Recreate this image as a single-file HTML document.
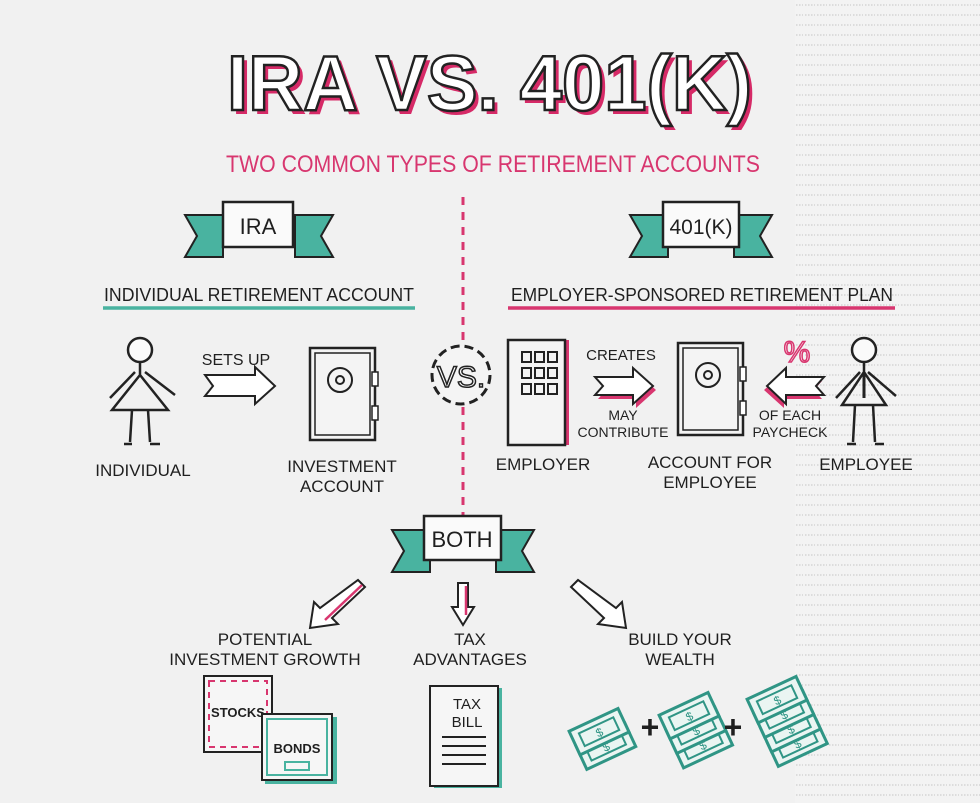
<!DOCTYPE html>
<html><head><meta charset="utf-8"><style>
html,body{margin:0;padding:0;background:#f2f2f2}
svg{display:block}
text{font-family:"Liberation Sans",sans-serif;fill:#1f1f1f}
</style></head><body>
<svg width="980" height="803" viewBox="0 0 980 803" xmlns="http://www.w3.org/2000/svg">
<defs>
<pattern id="tex" width="12" height="10" patternUnits="userSpaceOnUse">
<rect width="12" height="10" fill="#f3f3f3"/>
<line x1="1" y1="5" x2="11" y2="5" stroke="#d4d4d4" stroke-width="1.5" stroke-dasharray="1.5 1.5"/>
</pattern>
<g id="banL"><polygon points="0,10 38,10 38,52 0,52 12,31" fill="#49b3a0" stroke="#222" stroke-width="2"/></g>
<g id="bill"><rect x="-27" y="-13" width="54" height="26" fill="#eaf5f2" stroke="#2f9585" stroke-width="3"/><rect x="-19" y="-7" width="38" height="14" fill="none" stroke="#2f9585" stroke-width="2"/><text x="0" y="5" font-size="12" text-anchor="middle" style="fill:#2f9585">$</text></g>
<g id="safe"><rect x="0" y="0" width="65" height="92" fill="#f4f4f4" stroke="#222" stroke-width="2.5"/><rect x="5" y="5" width="55" height="82" fill="none" stroke="#222" stroke-width="1.5"/><circle cx="30" cy="32" r="12" fill="none" stroke="#222" stroke-width="2"/><circle cx="30" cy="32" r="4" fill="none" stroke="#222" stroke-width="2"/><rect x="62" y="24" width="6" height="14" fill="#fff" stroke="#222" stroke-width="1.5"/><rect x="62" y="58" width="6" height="14" fill="#fff" stroke="#222" stroke-width="1.5"/></g>
</defs>
<rect width="980" height="803" fill="#f1f1f1"/>
<rect x="795" y="0" width="185" height="803" fill="url(#tex)"/>

<!-- title -->
<text x="231" y="114" font-size="78" font-weight="bold" textLength="525" lengthAdjust="spacingAndGlyphs" style="fill:#d62a67">IRA VS. 401(K)</text>
<text x="227" y="110" font-size="78" font-weight="bold" textLength="525" lengthAdjust="spacingAndGlyphs" style="fill:#fff;stroke:#222;stroke-width:2.5">IRA VS. 401(K)</text>
<text x="226" y="172" font-size="24" textLength="534" lengthAdjust="spacingAndGlyphs" style="fill:#d8366f">TWO COMMON TYPES OF RETIREMENT ACCOUNTS</text>

<line x1="463" y1="197" x2="463" y2="515" stroke="#d8366f" stroke-width="3" stroke-dasharray="8 7"/>

<!-- IRA banner -->
<use href="#banL" x="185" y="205"/>
<g transform="translate(333,0) scale(-1,1)"><use href="#banL" x="0" y="205"/></g>
<rect x="223" y="202" width="70" height="45" fill="#fafafa" stroke="#222" stroke-width="2.5"/>
<text x="258" y="234" font-size="22" text-anchor="middle">IRA</text>
<!-- 401k banner -->
<use href="#banL" x="630" y="205"/>
<g transform="translate(772,0) scale(-1,1)"><use href="#banL" x="0" y="205"/></g>
<rect x="663" y="202" width="76" height="45" fill="#fafafa" stroke="#222" stroke-width="2.5"/>
<text x="701" y="234" font-size="21" text-anchor="middle">401(K)</text>

<text x="104" y="301" font-size="18" textLength="310" lengthAdjust="spacingAndGlyphs">INDIVIDUAL RETIREMENT ACCOUNT</text>
<line x1="103" y1="308" x2="415" y2="308" stroke="#49b3a0" stroke-width="3.5"/>
<text x="511" y="301" font-size="18" textLength="382" lengthAdjust="spacingAndGlyphs">EMPLOYER-SPONSORED RETIREMENT PLAN</text>
<line x1="508" y1="308" x2="895" y2="308" stroke="#d8366f" stroke-width="3.5"/>

<!-- individual -->
<g stroke="#222" stroke-width="2.5" fill="none">
<circle cx="140" cy="350" r="12" fill="#fafafa"/>
<path d="M140 362 L140 375 M140 375 L112 410 L168 410 Z M135 372 L110 398 M145 372 L175 395 M132 410 L130 442 M148 410 L150 442 M124 444 L132 444 M150 444 L160 444"/>
</g>
<text x="143" y="476" font-size="17" text-anchor="middle">INDIVIDUAL</text>
<text x="236" y="365" font-size="16" text-anchor="middle">SETS UP</text>
<polygon points="205,375 255,375 255,367 275,386 255,404 255,396 205,396 213,386" fill="#fff" stroke="#222" stroke-width="2"/>
<use href="#safe" x="310" y="348"/>
<text x="342" y="472" font-size="17" text-anchor="middle">INVESTMENT</text>
<text x="342" y="492" font-size="17" text-anchor="middle">ACCOUNT</text>

<!-- VS -->
<circle cx="461" cy="375" r="29" fill="#f4f4f4" stroke="#222" stroke-width="3" stroke-dasharray="9 5"/>
<text x="461" y="387" font-size="30" text-anchor="middle" style="fill:#fff;stroke:#222;stroke-width:1.5">VS.</text>

<!-- employer building -->
<rect x="511" y="340" width="58" height="105" fill="#d8366f"/>
<rect x="508" y="340" width="57" height="105" fill="#f4f4f4" stroke="#222" stroke-width="2.5"/>
<g fill="none" stroke="#222" stroke-width="2">
<rect x="522" y="352" width="9" height="10"/><rect x="535" y="352" width="9" height="10"/><rect x="548" y="352" width="9" height="10"/>
<rect x="522" y="368" width="9" height="10"/><rect x="535" y="368" width="9" height="10"/><rect x="548" y="368" width="9" height="10"/>
<rect x="522" y="384" width="9" height="10"/><rect x="535" y="384" width="9" height="10"/><rect x="548" y="384" width="9" height="10"/>
</g>
<text x="543" y="470" font-size="17" text-anchor="middle">EMPLOYER</text>
<text x="621" y="360" font-size="15" text-anchor="middle">CREATES</text>
<polygon points="598,381 636,381 636,372 656,390 636,408 636,399 598,399 606,390" fill="#d8366f"/>
<polygon points="595,377 633,377 633,368 653,386 633,404 633,395 595,395 603,386" fill="#fff" stroke="#222" stroke-width="2"/>
<text x="623" y="420" font-size="14" text-anchor="middle">MAY</text>
<text x="623" y="437" font-size="14" text-anchor="middle">CONTRIBUTE</text>
<use href="#safe" x="678" y="343"/>
<text x="710" y="468" font-size="17" text-anchor="middle">ACCOUNT FOR</text>
<text x="710" y="488" font-size="17" text-anchor="middle">EMPLOYEE</text>
<polygon points="822,381 784,381 784,372 764,390 784,408 784,399 822,399 814,390" fill="#d8366f"/>
<polygon points="824,377 786,377 786,368 767,386 786,404 786,395 824,395 816,386" fill="#fff" stroke="#222" stroke-width="2"/>
<text x="797" y="362" font-size="30" text-anchor="middle" style="fill:#fff;stroke:#d8366f;stroke-width:1.5">%</text>
<text x="790" y="420" font-size="14" text-anchor="middle">OF EACH</text>
<text x="790" y="437" font-size="14" text-anchor="middle">PAYCHECK</text>
<g stroke="#222" stroke-width="2.5" fill="none">
<circle cx="864" cy="350" r="12" fill="#fafafa"/>
<path d="M864 362 L864 372 M864 372 L842 405 L886 405 Z M860 372 L836 398 M868 372 L896 396 M855 405 L853 442 M873 405 L875 442 M847 444 L856 444 M875 444 L884 444"/>
<line x1="864" y1="372" x2="864" y2="398" stroke-width="3"/>
</g>
<text x="866" y="470" font-size="17" text-anchor="middle">EMPLOYEE</text>

<!-- BOTH -->
<use href="#banL" x="392" y="520"/>
<g transform="translate(534,0) scale(-1,1)"><use href="#banL" x="0" y="520"/></g>
<rect x="424" y="516" width="77" height="44" fill="#fafafa" stroke="#222" stroke-width="2.5"/>
<text x="462" y="547" font-size="22" text-anchor="middle">BOTH</text>

<g fill="#fff" stroke="#222" stroke-width="2">
<polygon points="358,580 365,587 332,618 338,624 310,628 314,602 320,608" />
<polygon points="458,583 468,583 468,607 474,607 463,625 452,607 458,607"/>
<polygon points="578,580 571,587 604,618 598,624 626,628 622,602 616,608"/>
</g>
<line x1="362" y1="585" x2="325" y2="620" stroke="#d8366f" stroke-width="2.5"/>
<line x1="466" y1="586" x2="466" y2="615" stroke="#d8366f" stroke-width="2.5"/>

<text x="265" y="645" font-size="17" text-anchor="middle">POTENTIAL</text>
<text x="265" y="665" font-size="17" text-anchor="middle">INVESTMENT GROWTH</text>
<text x="470" y="645" font-size="17" text-anchor="middle">TAX</text>
<text x="470" y="665" font-size="17" text-anchor="middle">ADVANTAGES</text>
<text x="680" y="645" font-size="17" text-anchor="middle">BUILD YOUR</text>
<text x="680" y="665" font-size="17" text-anchor="middle">WEALTH</text>

<!-- stocks/bonds -->
<rect x="204" y="676" width="68" height="76" fill="#f6f6f6" stroke="#222" stroke-width="2"/>
<rect x="209" y="681" width="58" height="66" fill="none" stroke="#d8366f" stroke-width="2" stroke-dasharray="6 5"/>
<text x="238" y="717" font-size="13" text-anchor="middle" font-weight="bold">STOCKS</text>
<rect x="265" y="717" width="72" height="67" fill="#49b3a0"/>
<rect x="262" y="714" width="70" height="66" fill="#f6f6f6" stroke="#222" stroke-width="2"/>
<rect x="267" y="719" width="60" height="56" fill="none" stroke="#49b3a0" stroke-width="2"/>
<text x="297" y="753" font-size="13" text-anchor="middle" font-weight="bold">BONDS</text>
<rect x="285" y="762" width="24" height="8" fill="none" stroke="#49b3a0" stroke-width="2"/>

<!-- tax bill -->
<rect x="434" y="688" width="68" height="100" fill="#49b3a0"/>
<rect x="430" y="686" width="68" height="100" fill="#f6f6f6" stroke="#222" stroke-width="2"/>
<text x="467" y="709" font-size="15" text-anchor="middle">TAX</text>
<text x="467" y="727" font-size="15" text-anchor="middle">BILL</text>
<g stroke="#222" stroke-width="2"><line x1="442" y1="737" x2="486" y2="737"/><line x1="442" y1="746" x2="486" y2="746"/><line x1="442" y1="755" x2="486" y2="755"/><line x1="442" y1="764" x2="486" y2="764"/></g>

<!-- money -->
<g transform="translate(602,738) rotate(-25)"><use href="#bill" y="9"/><use href="#bill" y="-7"/></g>
<text x="650" y="738" font-size="32" font-weight="bold" text-anchor="middle">+</text>
<g transform="translate(692,722) rotate(-25)"><use href="#bill" y="25"/><use href="#bill" y="9"/><use href="#bill" y="-7"/></g>
<text x="733" y="738" font-size="32" font-weight="bold" text-anchor="middle">+</text>
<g transform="translate(780,706) rotate(-25)"><use href="#bill" y="41"/><use href="#bill" y="25"/><use href="#bill" y="9"/><use href="#bill" y="-7"/></g>
</svg>
</body></html>
